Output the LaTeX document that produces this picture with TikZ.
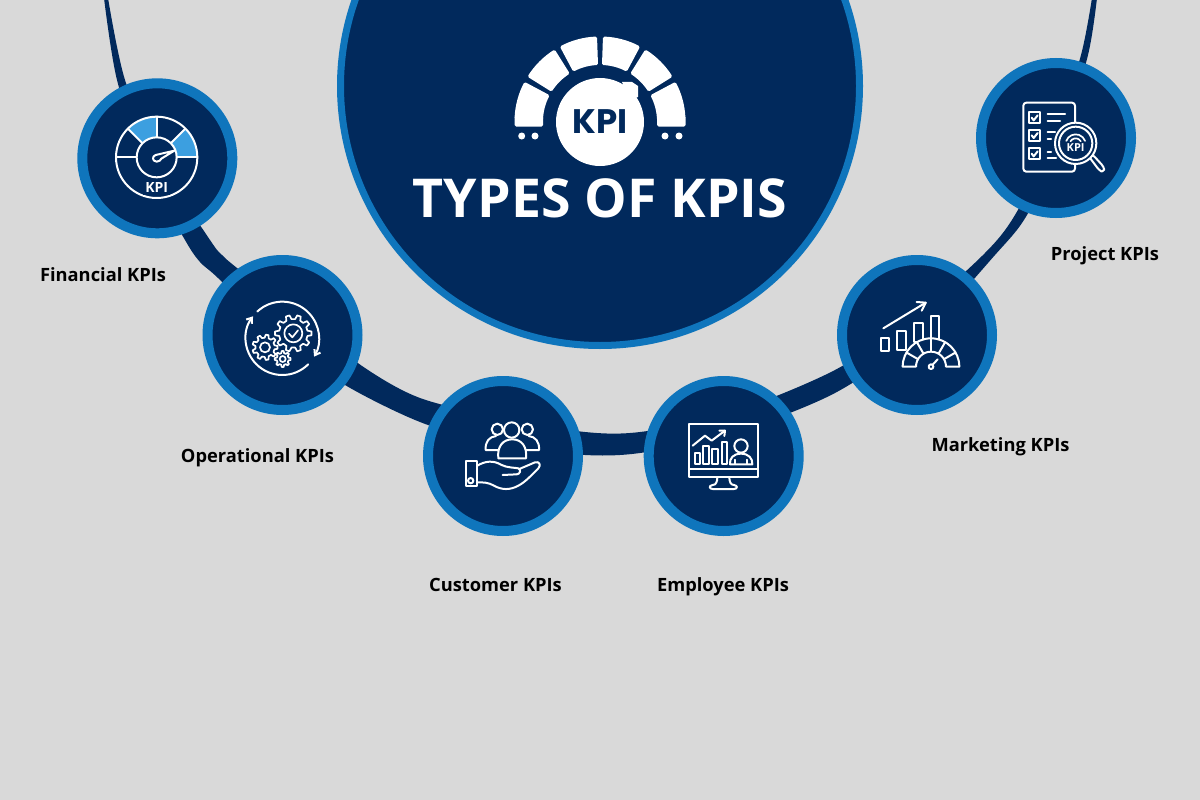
\documentclass[tikz,border=0pt]{standalone}
\usepackage{fontspec}
\setmainfont{Open Sans}
\newfontfamily\popfont{Poppins}
\usetikzlibrary{arrows.meta}
\definecolor{navy}{HTML}{01295C}
\definecolor{ringblue}{HTML}{0F75BC}
\definecolor{lightblue}{HTML}{3C9FE0}
\definecolor{bggray}{HTML}{D9D9D9}
\tikzset{
  kpidisc/.style={circle,draw=ringblue,fill=navy,line width=10pt,minimum size=150pt,inner sep=0pt},
  hubdisc/.style={circle,draw=ringblue,fill=navy,line width=7pt,minimum size=519pt,inner sep=0pt},
  kpilabel/.style={font=\fontsize{18.3pt}{20pt}\selectfont\bfseries,text=black,inner sep=0pt,anchor=base},
  iconline/.style={draw=white,line width=2pt,line join=round,line cap=round},
  iconthin/.style={draw=white,line width=1.7pt,line join=round,line cap=round},
  crop/.style={x=0.33333pt,y=-0.33333pt},
  hollow/.style={iconline,fill=navy},
}
% gear: centre, teeth, outer radius, root radius (in crop units)
\newcommand{\gearshape}[4]{%
  \pgfmathsetmacro{\gstep}{360/#2}%
  \begin{scope}[shift={(#1)}]
  \draw[iconthin,fill=navy] (-0.3*\gstep:#4)
    \foreach \gi in {1,...,#2}{
      -- ({\gi*\gstep-1.16*\gstep}:#3)
      -- ({\gi*\gstep-0.84*\gstep}:#3)
      -- ({\gi*\gstep-0.7*\gstep}:#4)
      -- ({\gi*\gstep-0.3*\gstep}:#4)
    } -- cycle;
  \end{scope}}
\begin{document}
\begin{tikzpicture}[x=1pt,y=-1pt]
\useasboundingbox (0,0) rectangle (1200,800);
\fill[bggray] (0,0) rectangle (1200,800);
\clip (0,0) rectangle (1200,800);

% tapered band
\fill[navy] plot[smooth] coordinates {(104,-2) (117,80) (147,170) (185,240) (200,262) (218,278) (282,340) (345,385) (420,422) (500,446) (585,455) (640,453) (725,436) (835,393) (925,330) (995,255) (1027,215) (1062,140) (1088,55) (1097,-2)}
 -- plot[smooth] coordinates {(1092,-2) (1081,55) (1055,135) (1015,215) (983,255) (915,315) (835,370) (725,415) (640,432) (585,432) (500,418) (420,398) (365,368) (300,318) (237,268) (222,255) (210,240) (160,162) (125,80) (108,-2)} -- cycle;

% hub and satellites
\node[hubdisc] (hub) at (600,86) {};
\node[kpidisc] (fin) at (157.3,158.3) {};
\node[kpidisc] (ops) at (282.5,335) {};
\node[kpidisc] (cus) at (503,456) {};
\node[kpidisc] (emp) at (723.7,456) {};
\node[kpidisc] (mkt) at (917,335) {};
\node[kpidisc] (prj) at (1056,138) {};

% hub gauge emblem
\begin{scope}[shift={(600,122)}]
  \foreach \a in {-180,-150,-120,-90,-60,-30}{
    \fill[white,rounded corners=1.5pt] (\a+2.0:85.5) arc (\a+2.0:\a+28:85.5) -- (\a+28:57) arc (\a+28:\a+2.0:57) -- cycle;
  }
\end{scope}
\fill[white,rounded corners=1.5pt] (514.5,116) rectangle (543,126.5);
\fill[white,rounded corners=1.5pt] (657,116) rectangle (685.5,126.5);
\fill[white] (600,122) circle (44);
\fill[white] (622,82) -- (632,82) -- (638,86) -- (638,97) -- (630,100) -- cycle;
\node[font=\popfont\fontsize{34pt}{34pt}\selectfont\bfseries,text=navy,inner sep=0pt] (gaugetext) at (600,122) {KPI};
\foreach \dx in {521.7,535,665,679}{\fill[white] (\dx,136) circle (3.5);}
\node[font=\fontsize{53.6pt}{54pt}\selectfont\bfseries,text=white,inner sep=0pt] (title) at (600,198) {TYPES OF KPIS};

% labels
\node[kpilabel] (lfin) at (103,281) {Financial KPIs};
\node[kpilabel] (lops) at (257.5,462) {Operational KPIs};
\node[kpilabel] (lcus) at (495.5,591) {Customer KPIs};
\node[kpilabel] (lemp) at (723,591) {Employee KPIs};
\node[kpilabel] (lmkt) at (1000.5,451) {Marketing KPIs};
\node[kpilabel] (lprj) at (1105,260) {Project KPIs};

% Financial icon
\begin{scope}[shift={(75,80)},crop]
 \begin{scope}[shift={(245,232)}]
  \fill[lightblue] (-135:122) arc (-135:-90:122) -- (-90:60) arc (-90:-135:60) -- cycle;
  \fill[lightblue] (-45:122) arc (-45:0:122) -- (0:60) arc (0:-45:60) -- cycle;
  \draw[iconline] (0,0) circle (122);
  \draw[iconline] (0,0) circle (60);
  \foreach \a in {180,-135,-90,-45,0}{\draw[iconline] (\a:60) -- (\a:122);}
  \draw[iconline] (53,-20) -- (-3,-7) .. controls (-14,-4) and (-14,12) .. (0,13) .. controls (8,13) and (12,8) .. (14,4) -- cycle;
 \end{scope}
 \fill[navy] (205,298) rectangle (285,345);
 \node[font=\fontsize{14pt}{14pt}\selectfont\bfseries,text=white,inner sep=0pt] (fintext) at (245,323) {KPI};
\end{scope}

% Operational icon
\begin{scope}[shift={(200,255)},crop]
 \begin{scope}[shift={(247,250)}]
  \draw[iconline,-{Straight Barb[length=5pt,width=7pt]}] (-133:110) arc (-133:30:110);
  \draw[iconline,-{Straight Barb[length=5pt,width=7pt]}] (45:110) arc (45:217:110);
 \end{scope}
 \gearshape{280,235}{10}{55}{43}
 \draw[iconthin] (280,235) circle (27);
 \draw[iconthin] (267,236) -- (277,247) -- (294,226);
 \gearshape{195,277}{9}{38}{29}
 \draw[iconthin] (195,277) circle (15);
 \gearshape{248,312}{8}{24}{18}
 \draw[iconthin] (248,312) circle (9);
\end{scope}

% Customer icon
\begin{scope}[shift={(420,375)},crop]
 \draw[iconline] (232,163) circle (17);
 \draw[iconline] (322,163) circle (17);
 \draw[iconline] (233,225) -- (197,225) .. controls (195,200) and (208,185) .. (228,183);
 \draw[iconline] (319,225) -- (357,225) .. controls (359,200) and (346,185) .. (326,183);
 \draw[hollow] (275,165) circle (23);
 \draw[hollow] (235,250) -- (318,250) .. controls (322,215) and (305,193) .. (277,193) .. controls (248,193) and (231,215) .. (235,250) -- cycle;
 \draw[iconline] (137,258) rectangle (172,332);
 \draw[iconline] (152,317) circle (8);
 \draw[iconline] (172,272) .. controls (195,258) and (220,255) .. (245,270) .. controls (260,278) and (285,278) .. (295,280) .. controls (305,284) and (300,298) .. (290,298) -- (248,300);
 \draw[iconline] (298,282) -- (345,262) .. controls (358,258) and (364,270) .. (355,280) .. controls (335,300) and (315,322) .. (295,332) .. controls (270,346) and (245,345) .. (222,332) .. controls (205,322) and (190,322) .. (172,322);
\end{scope}

% Employee icon
\begin{scope}[shift={(640,375)},crop]
 \draw[iconline] (147,147) rectangle (353,307);
 \draw[iconline] (147,282) -- (353,282);
 \draw[iconline] (232,307) .. controls (232,320) and (228,330) .. (218,330) .. controls (205,332) and (208,342) .. (218,342) -- (282,342) .. controls (292,342) and (295,332) .. (282,330) .. controls (272,330) and (268,320) .. (268,307);
 \draw[iconline] (165,235) rectangle (180,268);
 \draw[iconline] (190,212) rectangle (207,268);
 \draw[iconline] (217,222) rectangle (233,268);
 \draw[iconline] (245,200) rectangle (262,268);
 \draw[iconline] (158,212) -- (195,182) -- (215,197) -- (255,167);
 \draw[iconline] (238,167) -- (255,167) -- (253,183);
 \draw[iconline] (303,213) circle (20);
 \draw[iconline] (270,268) .. controls (268,250) and (280,236) .. (303,236) .. controls (326,236) and (338,250) .. (337,268) -- cycle;
 \draw[iconthin] (286,268) -- (286,254) (320,268) -- (320,254);
\end{scope}

% Marketing icon
\begin{scope}[shift={(835,255)},crop]
 \draw[iconline] (145,220) -- (272,143);
 \draw[iconline] (245,141) -- (272,143) -- (260,167);
 \draw[iconline] (138,250) rectangle (162,287);
 \draw[iconline] (187,228) rectangle (213,285);
 \draw[iconline] (237,205) rectangle (263,262);
 \draw[iconline] (287,183) rectangle (312,255);
 \begin{scope}[shift={(288,335)}]
  \draw[hollow] (-180:85) arc (-180:0:85) -- (0:45) arc (0:-180:45) -- cycle;
  \foreach \a in {-150,-120,-90,-60,-30}{\draw[iconline] (\a:45) -- (\a:85);}
  \draw[iconline] (0,0) circle (7);
  \draw[iconline] (5,-6) -- (20,-22);
 \end{scope}
\end{scope}

% Project icon
\begin{scope}[shift={(975,55)},crop]
 \draw[iconline,rounded corners=3pt] (145,143) rectangle (300,350);
 \foreach \cy in {172,225,280}{
   \draw[iconline] (162,\cy) rectangle (195,\cy+33);
   \draw[iconline] (170,\cy+16) -- (176,\cy+24) -- (188,\cy+9);
 }
 \draw[iconline] (218,178) -- (270,178) (218,198) -- (255,198) (218,232) -- (240,232) (218,252) -- (228,252) (218,290) -- (228,290) (218,308) -- (243,308);
 \draw[hollow,rounded corners=3pt] (342,305) -- (352,298) -- (386,335) .. controls (388,345) and (380,350) .. (372,345) -- cycle;
 \draw[hollow] (302,265) circle (62);
 \draw[iconline] (302,265) circle (50);
 \begin{scope}[shift={(302,268)}]
  \draw[iconthin] (-160:30) arc (-160:-20:30);
  \draw[iconthin] (-150:18) arc (-150:-30:18);
 \end{scope}
 \node[font=\fontsize{11pt}{11pt}\selectfont\bfseries,text=white,inner sep=0pt] (prjtext) at (302,277) {KPI};
\end{scope}
\end{tikzpicture}
\end{document}
